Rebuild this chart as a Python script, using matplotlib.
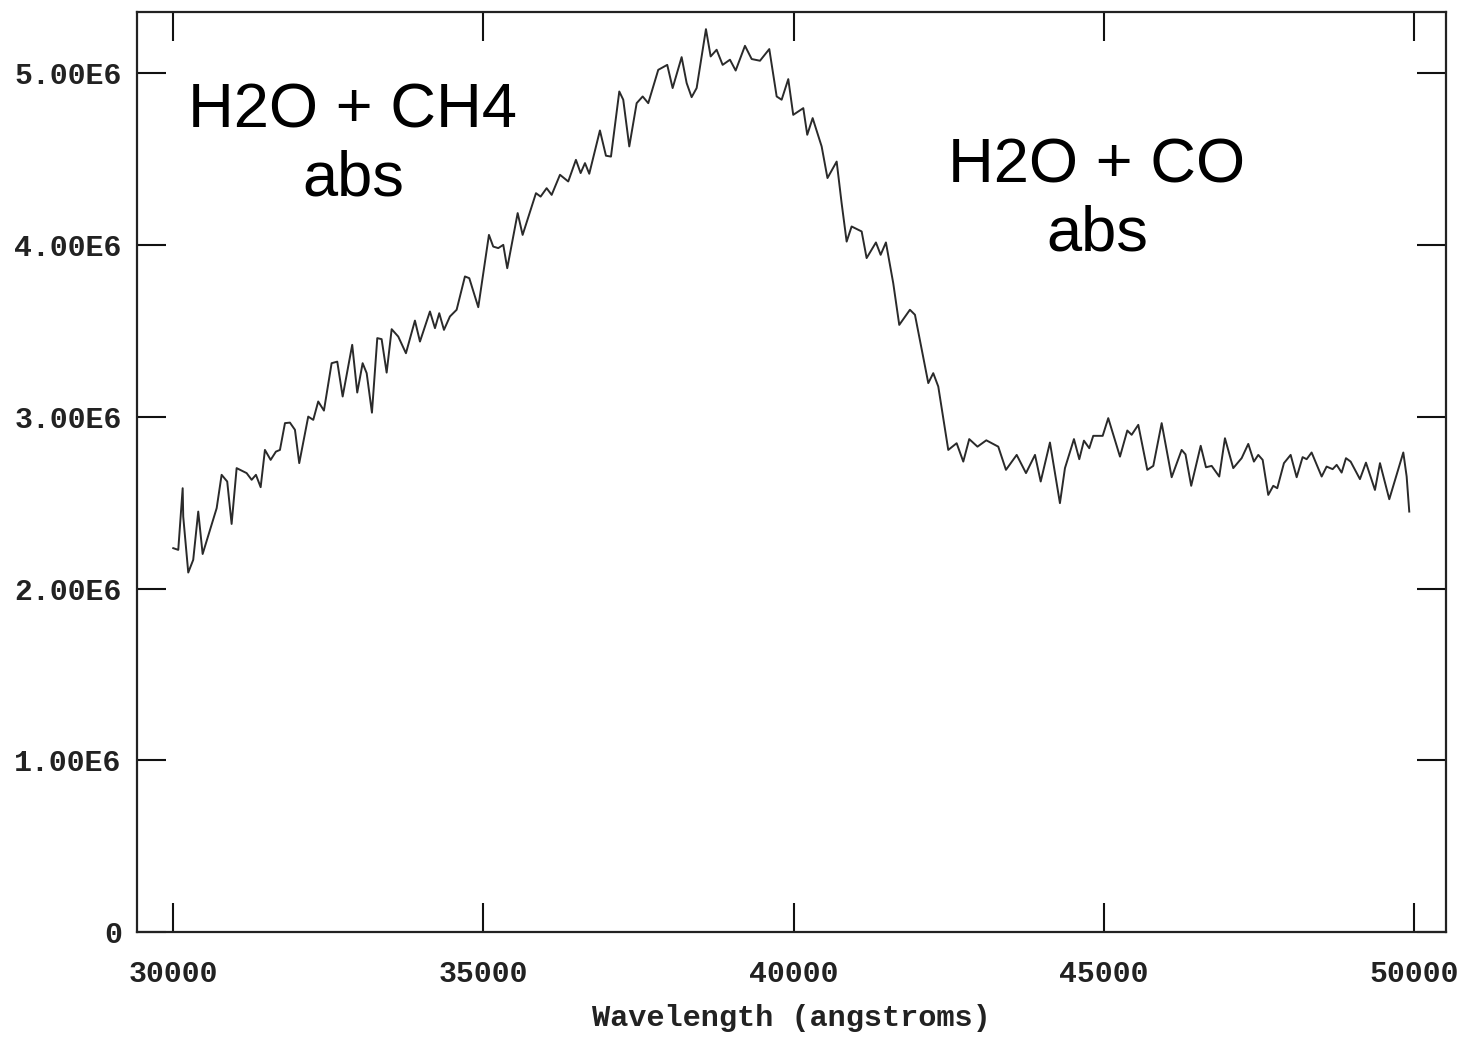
import numpy as np
import matplotlib
matplotlib.use("Agg")
import matplotlib.pyplot as plt

# spectrum: wavelength (angstroms) and flux (units of 1E6)
wave = [30000, 30081, 30152, 30161, 30242, 30322, 30403, 30474, 30592, 30700,
        30780, 30870, 30941, 31022, 31183, 31264, 31333, 31409, 31478, 31570,
        31655, 31720, 31801, 31881, 31962, 32031, 32176, 32257, 32337, 32429,
        32553, 32644, 32731, 32885, 32966, 33053, 33118, 33203, 33289, 33359,
        33440, 33521, 33627, 33751, 33896, 33977, 34138, 34219, 34288, 34364,
        34460, 34568, 34702, 34772, 34917, 35089, 35158, 35239, 35320, 35384,
        35552, 35632, 35847, 35922, 36019, 36100, 36234, 36367, 36491, 36567,
        36637, 36706, 36878, 36975, 37056, 37190, 37254, 37351, 37470, 37567,
        37657, 37818, 37963, 38050, 38195, 38276, 38356, 38437, 38587, 38663,
        38759, 38856, 38974, 39066, 39216, 39324, 39458, 39608, 39727, 39807,
        39914, 39994, 40156, 40220, 40307, 40452, 40546, 40694, 40774, 40855,
        40935, 41097, 41177, 41327, 41403, 41488, 41606, 41703, 41875, 41956,
        42171, 42251, 42332, 42493, 42628, 42735, 42831, 42964, 43106, 43299,
        43423, 43596, 43746, 43891, 43983, 44132, 44293, 44374, 44519, 44605,
        44680, 44766, 44830, 44982, 45072, 45261, 45379, 45449, 45556, 45701,
        45798, 45933, 46094, 46255, 46317, 46409, 46562, 46647, 46739, 46861,
        46953, 47087, 47222, 47329, 47420, 47490, 47561, 47651, 47732, 47796,
        47904, 48012, 48109, 48205, 48270, 48350, 48512, 48592, 48689, 48754,
        48834, 48904, 48979, 49129, 49226, 49371, 49452, 49602, 49828, 49882,
        49924]
flux = [2.235, 2.225, 2.584, 2.419, 2.093, 2.167, 2.448, 2.201, 2.341, 2.468,
        2.662, 2.623, 2.376, 2.701, 2.672, 2.633, 2.662, 2.590, 2.807, 2.749,
        2.797, 2.807, 2.963, 2.966, 2.924, 2.730, 3.001, 2.982, 3.089, 3.036,
        3.312, 3.321, 3.118, 3.419, 3.141, 3.312, 3.254, 3.024, 3.458, 3.452,
        3.257, 3.510, 3.467, 3.370, 3.560, 3.438, 3.613, 3.516, 3.603, 3.506,
        3.584, 3.623, 3.817, 3.807, 3.638, 4.059, 3.991, 3.982, 4.001, 3.865,
        4.186, 4.059, 4.302, 4.282, 4.331, 4.292, 4.409, 4.370, 4.496, 4.419,
        4.477, 4.415, 4.667, 4.520, 4.515, 4.894, 4.846, 4.574, 4.826, 4.865,
        4.826, 5.020, 5.049, 4.914, 5.094, 4.943, 4.861, 4.914, 5.257, 5.098,
        5.137, 5.049, 5.079, 5.016, 5.160, 5.083, 5.073, 5.141, 4.865, 4.846,
        4.966, 4.758, 4.797, 4.642, 4.739, 4.574, 4.390, 4.486, 4.244, 4.020,
        4.108, 4.079, 3.924, 4.015, 3.943, 4.015, 3.778, 3.535, 3.623, 3.594,
        3.196, 3.254, 3.176, 2.807, 2.846, 2.739, 2.870, 2.826, 2.863, 2.826,
        2.691, 2.778, 2.672, 2.778, 2.623, 2.850, 2.497, 2.701, 2.870, 2.753,
        2.861, 2.817, 2.889, 2.889, 2.992, 2.768, 2.920, 2.895, 2.953, 2.691,
        2.714, 2.963, 2.648, 2.807, 2.781, 2.598, 2.831, 2.706, 2.714, 2.652,
        2.875, 2.701, 2.759, 2.842, 2.739, 2.778, 2.749, 2.545, 2.598, 2.584,
        2.730, 2.778, 2.648, 2.765, 2.753, 2.792, 2.652, 2.710, 2.695, 2.720,
        2.675, 2.759, 2.739, 2.637, 2.733, 2.574, 2.730, 2.520, 2.792, 2.652,
        2.448]

xticks = [30000, 35000, 40000, 45000, 50000]
yticks = [0, 1e6, 2e6, 3e6, 4e6, 5e6]
ytick_labels = ['0', '1.00E6', '2.00E6', '3.00E6', '4.00E6', '5.00E6']

fig = plt.figure(figsize=(14.6, 10.41), dpi=100)
ax = fig.add_axes([0.0938, 0.1047, 0.8966, 0.8838])

ax.plot(wave, np.array(flux) * 1e6, color='#2a2a2a', linewidth=1.4)

ax.set_xlim(29415, 50516)
ax.set_ylim(0, 5.357e6)

ax.set_xticks(xticks)
ax.set_xticklabels([str(t) for t in xticks])
ax.set_yticks(yticks)
ax.set_yticklabels(ytick_labels)

tickfont = 'Liberation Mono'
for lab in ax.get_xticklabels() + ax.get_yticklabels():
    lab.set_fontfamily(tickfont)
    lab.set_fontsize(21.5)
    lab.set_fontweight('bold')
    lab.set_color('#222222')

ax.tick_params(direction='in', length=21, width=1.5, top=True, right=True,
               color='#111111')
ax.tick_params(axis='x', pad=20)
ax.tick_params(axis='y', pad=11)
for s in ax.spines.values():
    s.set_linewidth(1.6)
    s.set_color('#222222')

ax.set_xlabel('Wavelength (angstroms)', fontfamily=tickfont, fontsize=21.8,
              fontweight='bold', color='#222222', labelpad=12)

# molecular absorption notes
ax.text(32897, 4.581e6, 'H2O + CH4\nabs', ha='center', va='center',
        multialignment='center', fontfamily='Liberation Sans', fontsize=45.5)
ax.text(44890, 4.263e6, 'H2O + CO\nabs', ha='center', va='center',
        multialignment='center', fontfamily='Liberation Sans', fontsize=45.5)

plt.savefig('out.png', dpi=100)
